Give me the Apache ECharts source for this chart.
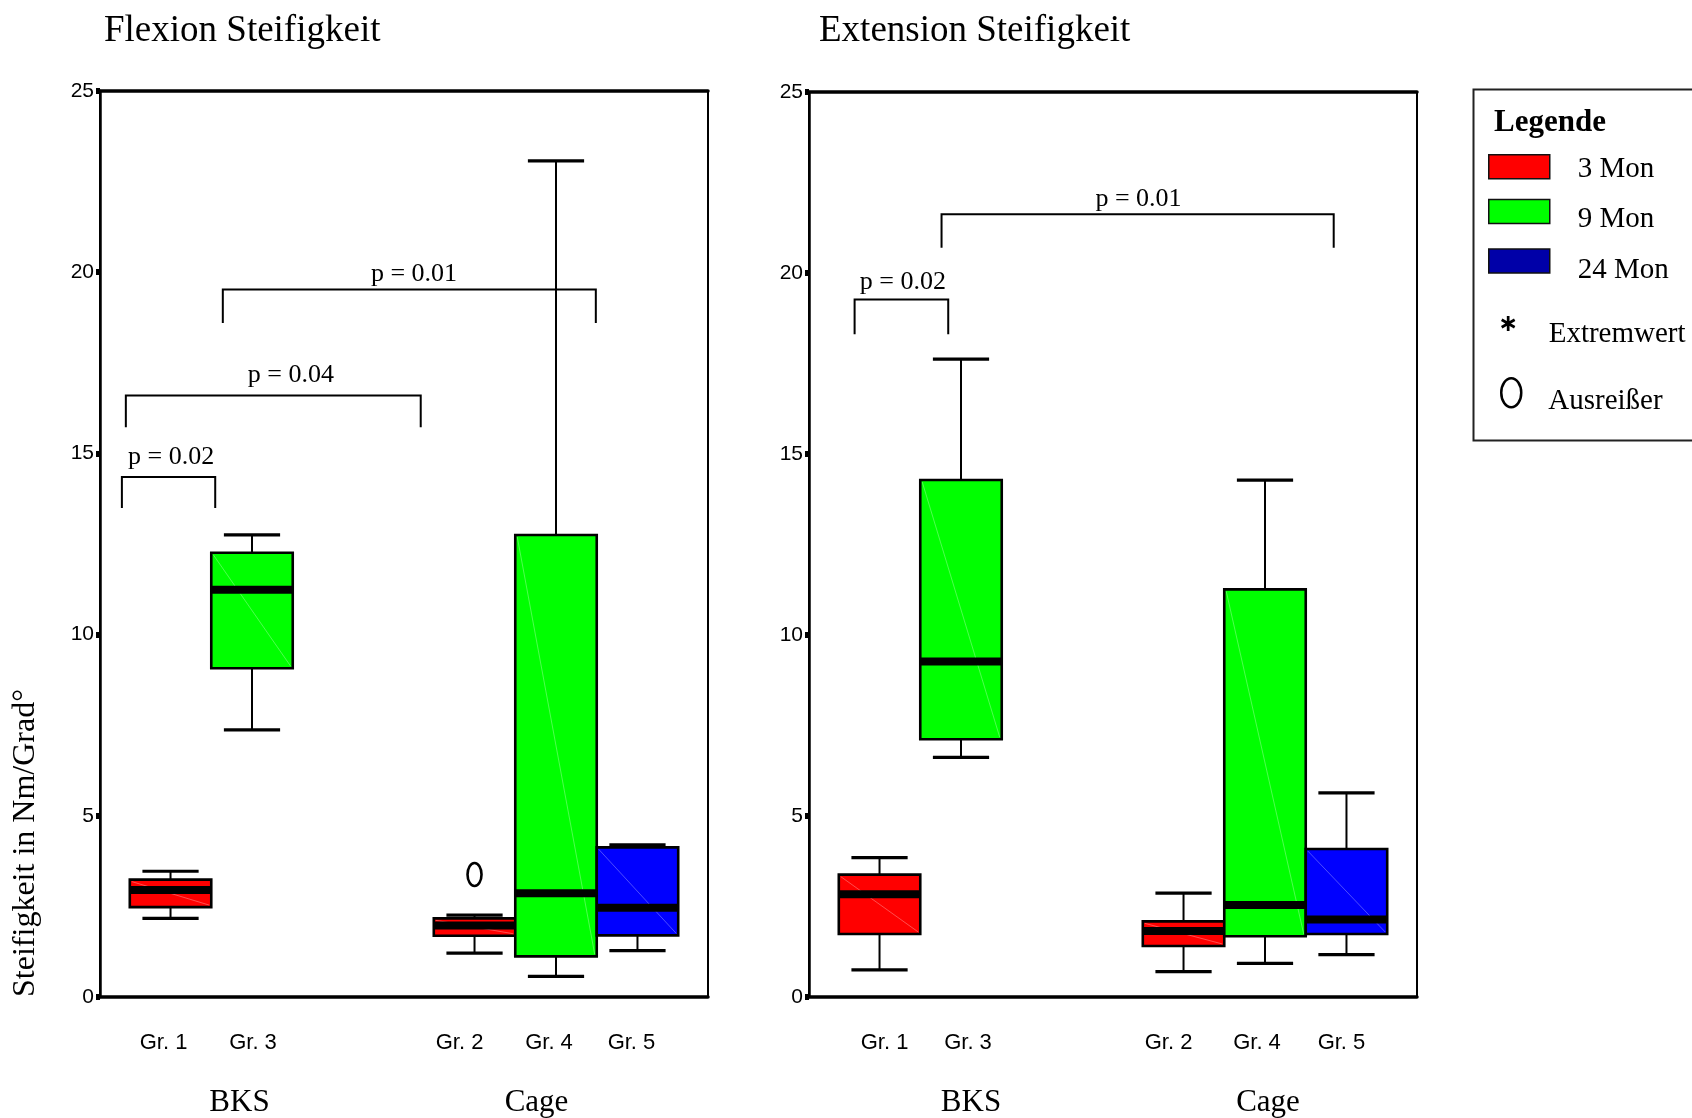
<!DOCTYPE html>
<html>
<head>
<meta charset="utf-8">
<script src="https://cdn.jsdelivr.net/npm/echarts@6/dist/echarts.min.js"></script>
<style>
html,body{margin:0;padding:0;background:#fff;}
#chart{width:1692px;height:1118px;}
</style>
</head>
<body>
<div id="chart"></div>
<script>
// ---------- data ----------
const clusters = ['BKS', 'Cage'];
const timeNames = ['3 Mon', '9 Mon', '24 Mon'];
const timeColors = ['#ff0000', '#00ff00', '#0000ff'];
const legendColors = ['#ff0000', '#00ff00', '#0000a8'];
const yTicks = [0, 5, 10, 15, 20, 25];
// group labels per time series, per cluster
const grLabels3 = ['Gr. 1', 'Gr. 2'];
const grLabels9 = ['Gr. 3', 'Gr. 4'];
const grLabels24 = ['', 'Gr. 5'];
// box values: [min, q1, median, q3, max] per cluster (null = no box)
const flex3 = [[2.17, 2.48, 2.95, 3.24, 3.47], [1.21, 1.69, 1.97, 2.17, 2.26]];
const flex9 = [[7.37, 9.07, 11.24, 12.26, 12.75], [0.57, 1.12, 2.86, 12.75, 23.07]];
const flex24 = [null, [1.28, 1.70, 2.46, 4.13, 4.20]];
const ext3 = [[0.75, 1.74, 2.84, 3.38, 3.85], [0.70, 1.41, 1.82, 2.09, 2.87]];
const ext9 = [[6.62, 7.12, 9.27, 14.28, 17.62], [0.93, 1.68, 2.54, 11.26, 14.28]];
const ext24 = [null, [1.17, 1.74, 2.14, 4.09, 5.64]];
// outliers: [cluster index, time index, value]
const flexOutliers = [[1, 0, 3.38]];
const extOutliers = [];
const extremes = [];
// significance brackets: [cluster ref, y top, y leg end, x start, x end, label x, label y]
// (x in category widths from cluster 0, y in axis units)
const flexBrackets = [
  [0, 14.35, 13.49, -0.428, -0.121, -0.266, 14.94],
  [0, 16.60, 15.72, -0.415, 0.555, 0.128, 17.21],
  [0, 19.52, 18.60, -0.096, 1.131, 0.533, 20.01]
];
const flexBracketLabels = ['p = 0.02', 'p = 0.04', 'p = 0.01'];
const extBrackets = [
  [0, 19.27, 18.31, -0.350, -0.042, -0.191, 19.80],
  [0, 21.62, 20.70, -0.064, 1.226, 0.584, 22.09]
];
const extBracketLabels = ['p = 0.02', 'p = 0.01'];

// ---------- style config ----------
const BOX_FRAC = 0.268;
const SERIF = '"Liberation Serif", "Times New Roman", serif';
const SANS = '"Liberation Sans", Arial, sans-serif';
// horizontal nudges (px) of the group labels: [plot][time slot][cluster]
const grLabelNudge = [
  [[-7, -15], [1, -7], [0, -6]],
  [[5, -15], [7, -8], [0, -5]]
];

function boxData(arr) {
  const out = [];
  arr.forEach((v, i) => { if (v) out.push([i].concat(v)); });
  return out;
}
function boxRender(slot, color, labels, nudge) {
  return function (params, api) {
    const cat = api.value(0);
    const bw = api.size([1, 0])[0];
    const w = bw * BOX_FRAC;
    const base = api.coord([cat, 0]);
    const cx = base[0] + (slot - 1) * w;
    const yy = i => api.coord([cat, api.value(i)])[1];
    const yMin = yy(1), yQ1 = yy(2), yMed = yy(3), yQ3 = yy(4), yMax = yy(5);
    const x0 = cx - w / 2, x1 = cx + w / 2;
    const cap = w * 0.69 / 2;
    return {
      type: 'group',
      children: [
        { type: 'line', shape: { x1: cx, y1: yMax, x2: cx, y2: yQ3 }, style: { stroke: '#000', lineWidth: 2 } },
        { type: 'line', shape: { x1: cx, y1: yQ1, x2: cx, y2: yMin }, style: { stroke: '#000', lineWidth: 2 } },
        { type: 'line', shape: { x1: cx - cap, y1: yMax, x2: cx + cap, y2: yMax }, style: { stroke: '#000', lineWidth: 3.2 } },
        { type: 'line', shape: { x1: cx - cap, y1: yMin, x2: cx + cap, y2: yMin }, style: { stroke: '#000', lineWidth: 3.2 } },
        { type: 'rect', shape: { x: x0, y: yQ3, width: w, height: yQ1 - yQ3 }, style: { fill: color, stroke: '#000', lineWidth: 2.6 } },
        { type: 'line', shape: { x1: x0 + 2, y1: yQ3 + 2, x2: x1 - 2, y2: yQ1 - 2 }, style: { stroke: 'rgba(255,255,255,0.3)', lineWidth: 1 } },
        { type: 'line', shape: { x1: x0, y1: yMed, x2: x1, y2: yMed }, style: { stroke: '#000', lineWidth: 8 } },
        { type: 'text', x: cx + nudge[cat], y: base[1] + 46, style: { text: labels[cat], fill: '#000', font: '22px ' + SANS, align: 'center', verticalAlign: 'middle' } }
      ]
    };
  };
}
function bracketRender(labels) {
  return function (params, api) {
    const bw = api.size([1, 0])[0];
    const ref = api.value(0);
    const top = api.coord([ref, api.value(1)]);
    const yBot = api.coord([ref, api.value(2)])[1];
    const yTxt = api.coord([ref, api.value(6)])[1];
    const xa = top[0] + api.value(3) * bw;
    const xb = top[0] + api.value(4) * bw;
    const xt = top[0] + api.value(5) * bw;
    const yt = top[1];
    return {
      type: 'group',
      children: [
        { type: 'polyline', shape: { points: [[xa, yBot], [xa, yt], [xb, yt], [xb, yBot]] }, style: { stroke: '#000', lineWidth: 2, fill: null } },
        { type: 'text', x: xt, y: yTxt + 2, style: { text: labels[params.dataIndex], fill: '#000', font: '26px ' + SERIF, align: 'center', verticalAlign: 'middle' } }
      ]
    };
  };
}
function outlierRender(params, api) {
  const cat = api.value(0), slot = api.value(1);
  const w = api.size([1, 0])[0] * BOX_FRAC;
  const p = api.coord([cat, api.value(2)]);
  return { type: 'ellipse', shape: { cx: p[0] + (slot - 1) * w, cy: p[1], rx: 7, ry: 11.5 }, style: { fill: null, stroke: '#000', lineWidth: 2.6 } };
}

function plotSeries(idx, arrs, labelsArr, brackets, bracketLabels, outliers) {
  const s = [];
  arrs.forEach((arr, t) => {
    s.push({
      type: 'custom', name: timeNames[t], xAxisIndex: idx, yAxisIndex: idx,
      itemStyle: { color: timeColors[t] },
      renderItem: boxRender(t, timeColors[t], labelsArr[t], grLabelNudge[idx][t]),
      encode: { x: 0, y: [1, 2, 3, 4, 5] },
      data: boxData(arr), z: 3
    });
  });
  s.push({
    type: 'custom', name: 'brackets' + idx, xAxisIndex: idx, yAxisIndex: idx,
    renderItem: bracketRender(bracketLabels), encode: { x: 0, y: [1, 2] }, data: brackets, z: 4
  });
  s.push({
    type: 'custom', name: 'Ausreißer', xAxisIndex: idx, yAxisIndex: idx,
    itemStyle: { color: '#000' },
    renderItem: outlierRender, encode: { x: 0, y: 2 }, data: outliers, z: 5
  });
  s.push({
    type: 'custom', name: 'Extremwert', xAxisIndex: idx, yAxisIndex: idx,
    itemStyle: { color: '#000' },
    renderItem: outlierRender, encode: { x: 0, y: 2 }, data: extremes, z: 5
  });
  return s;
}

function xAxisDef(gridIndex, padBKS, padCage) {
  const st = p => ({ fontFamily: SERIF, fontSize: 31, color: '#000', padding: p });
  return {
    type: 'category', gridIndex: gridIndex, data: clusters, boundaryGap: true,
    axisLine: { lineStyle: { color: '#000', width: 3.5 } },
    axisTick: { alignWithLabel: true, length: 8, lineStyle: { color: '#000', width: 5 } },
    axisLabel: {
      margin: 90, color: '#000', fontFamily: SERIF, fontSize: 31,
      formatter: v => (v === clusters[0] ? '{a|' + v + '}' : '{b|' + v + '}'),
      rich: { a: st(padBKS), b: st(padCage) }
    },
    splitLine: { show: false }
  };
}
function topAxisDef(gridIndex) {
  return {
    type: 'category', gridIndex: gridIndex, data: clusters, position: 'top',
    axisLine: { lineStyle: { color: '#000', width: 3.5 } },
    axisTick: { show: false }, axisLabel: { show: false }, splitLine: { show: false }
  };
}
function yAxisDef(gridIndex, name) {
  return {
    type: 'value', gridIndex: gridIndex, min: yTicks[0], max: yTicks[yTicks.length - 1], interval: yTicks[1] - yTicks[0],
    axisLine: { show: true, lineStyle: { color: '#000', width: 2.5 } },
    axisTick: { show: true, length: 4, lineStyle: { color: '#000', width: 6 } },
    axisLabel: { margin: 6, color: '#000', fontFamily: SANS, fontSize: 21 },
    splitLine: { show: false },
    name: name, nameLocation: 'middle', nameGap: 58,
    nameTextStyle: { color: '#000', fontFamily: SERIF, fontSize: 32, padding: [0, 598, 0, 0] }
  };
}

// legend icons: zero-length segments only extend the bounding box, to place the glyph within the item
const swatchPaths = [
  'path://M0,7.5L61,7.5L61,31.5L0,31.5Z M30,0L30,0 M30,44L30,44',
  'path://M0,1.8L61,1.8L61,25.8L0,25.8Z M30,0L30,0 M30,44L30,44',
  'path://M0,0.8L61,0.8L61,24.8L0,24.8Z M30,0L30,0 M30,44L30,44'
];
const asteriskPath = 'path://M4.1,0L5.9,0L5.9,10L4.1,10Z M1.12,1.72L9.78,6.72L8.88,8.28L0.22,3.28Z M0.22,6.72L8.88,1.72L9.78,3.28L1.12,8.28Z M5,24.3L5,24.3';
const ellipsePath = 'path://M0,14.5A10,14.5,0,1,0,20,14.5A10,14.5,0,1,0,0,14.5Z M10,46.4L10,46.4';

const chart = echarts.init(document.getElementById('chart'), null, { renderer: 'canvas' });
const option = {
  backgroundColor: '#fff',
  animation: false,
  title: [
    { text: 'Flexion Steifigkeit', left: 104, top: 13, padding: 0, textStyle: { fontFamily: SERIF, fontSize: 37, fontWeight: 'normal', color: '#000' } },
    { text: 'Extension Steifigkeit', left: 819, top: 13, padding: 0, textStyle: { fontFamily: SERIF, fontSize: 37, fontWeight: 'normal', color: '#000' } },
    { text: 'Legende', left: 1494, top: 107, padding: 0, textStyle: { fontFamily: SERIF, fontSize: 31, fontWeight: 'bold', color: '#000' } }
  ],
  graphic: [
    { type: 'rect', left: 1471, top: 87, shape: { width: 260, height: 351 }, style: { fill: null, stroke: '#222', lineWidth: 2 }, silent: true }
  ],
  legend: [
    {
      orient: 'vertical', left: 1488, top: 146.5, itemWidth: 61, itemHeight: 44, itemGap: 5, selectedMode: false, padding: 0,
      textStyle: { fontFamily: SERIF, fontSize: 29, color: '#000', padding: [0, 0, 0, 23] },
      data: timeNames.map((n, i) => ({ name: n, icon: swatchPaths[i], itemStyle: { color: legendColors[i], borderColor: '#111', borderWidth: 1.5 } }))
    },
    {
      orient: 'vertical', left: 1501, top: 316, itemWidth: 15, itemHeight: 36.45, selectedMode: false, padding: 0,
      textStyle: { fontFamily: SERIF, fontSize: 29, color: '#000', padding: [0, 0, 0, 28] },
      data: [{ name: 'Extremwert', icon: asteriskPath, itemStyle: { color: '#000', borderWidth: 0 } }]
    },
    {
      orient: 'vertical', left: 1500, top: 377, itemWidth: 20, itemHeight: 46.4, selectedMode: false, padding: 0,
      textStyle: { fontFamily: SERIF, fontSize: 29, color: '#000', padding: [0, 0, 0, 22] },
      data: [{ name: 'Ausreißer', icon: ellipsePath, itemStyle: { color: '#fff', borderColor: '#000', borderWidth: 2.5 } }]
    }
  ],
  grid: [
    { left: 100, top: 91, width: 608, height: 906, show: true, borderColor: '#000', borderWidth: 2, backgroundColor: 'transparent' },
    { left: 809, top: 92, width: 608, height: 906, show: true, borderColor: '#000', borderWidth: 2, backgroundColor: 'transparent' }
  ],
  xAxis: [xAxisDef(0, [0, 25, 0, 0], [0, 39, 0, 0]), xAxisDef(1, [0, 0, 0, 20], [0, 0, 0, 6]), topAxisDef(0), topAxisDef(1)],
  yAxis: [yAxisDef(0, 'Steifigkeit in Nm/Grad°'), yAxisDef(1, '')],
  series: [].concat(
    plotSeries(0, [flex3, flex9, flex24], [grLabels3, grLabels9, grLabels24], flexBrackets, flexBracketLabels, flexOutliers),
    plotSeries(1, [ext3, ext9, ext24], [grLabels3, grLabels9, grLabels24], extBrackets, extBracketLabels, extOutliers)
  )
};
chart.setOption(option);
</script>
</body>
</html>
